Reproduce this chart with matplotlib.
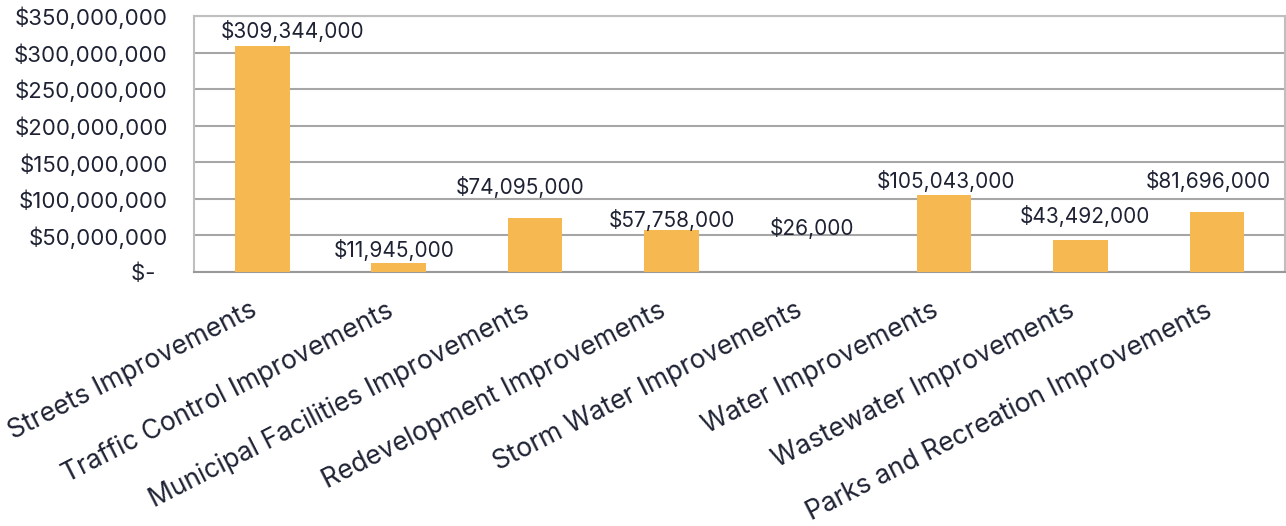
import matplotlib
matplotlib.use("Agg")
import matplotlib.pyplot as plt
from matplotlib.ticker import FuncFormatter
from matplotlib.transforms import ScaledTranslation

categories = [
    "Streets Improvements",
    "Traffic Control Improvements",
    "Municipal Facilities Improvements",
    "Redevelopment Improvements",
    "Storm Water Improvements",
    "Water Improvements",
    "Wastewater Improvements",
    "Parks and Recreation Improvements",
]
amounts = [309344000, 11945000, 74095000, 57758000, 26000, 105043000, 43492000, 81696000]

# value label placement relative to the bar top centre, in pixels (dx, dy)
label_offsets = [(30, 15), (-4, 13), (-15, 31), (1, 10), (4, 44), (2, 14), (5, 24), (-8, 31)]

BAR_COLOR = "#F6B951"
TEXT_COLOR = "#1E2233"

plt.rcParams["font.family"] = ["Inter", "DejaVu Sans"]

fig = plt.figure(figsize=(12.86, 5.26), dpi=100)
ax = fig.add_axes([0.1509, 0.4829, 0.8483, 0.4867])

x = list(range(len(categories)))
bars = ax.bar(x, amounts, width=0.4, color=BAR_COLOR, zorder=3)

ax.set_xlim(-0.5, len(categories) - 0.5)
ax.set_ylim(0, 350000000)
ax.set_yticks(range(0, 350000001, 50000000))


def money(v, pos=None):
    if v == 0:
        return "$-  "
    return "${:,.0f}".format(v)


ax.yaxis.set_major_formatter(FuncFormatter(money))
ax.grid(axis="y", color="#A6A6A6", linewidth=1.5, zorder=0)
ax.tick_params(axis="y", length=0, labelsize=16, colors=TEXT_COLOR, pad=19)
ax.tick_params(axis="x", length=0, labelsize=19, colors=TEXT_COLOR, pad=20)

for side in ["left", "right", "top"]:
    ax.spines[side].set_color("#BFBFBF")
    ax.spines[side].set_linewidth(1.5)
ax.spines["bottom"].set_color("#999999")
ax.spines["bottom"].set_linewidth(1.5)

ax.set_xticks(x)
ax.set_xticklabels(categories, rotation=27, ha="right", va="center",
                   rotation_mode="anchor")
shift = ScaledTranslation(-7 / 100, -9 / 100, fig.dpi_scale_trans)
for lbl in ax.get_xticklabels():
    lbl.set_transform(lbl.get_transform() + shift)

for rect, val, (dx, dy) in zip(bars, amounts, label_offsets):
    ax.annotate(money(val), (rect.get_x() + rect.get_width() / 2, val),
                xytext=(dx, dy), textcoords="offset pixels",
                ha="center", va="center", fontsize=15, color=TEXT_COLOR)

fig.savefig("out.png", dpi=100)
